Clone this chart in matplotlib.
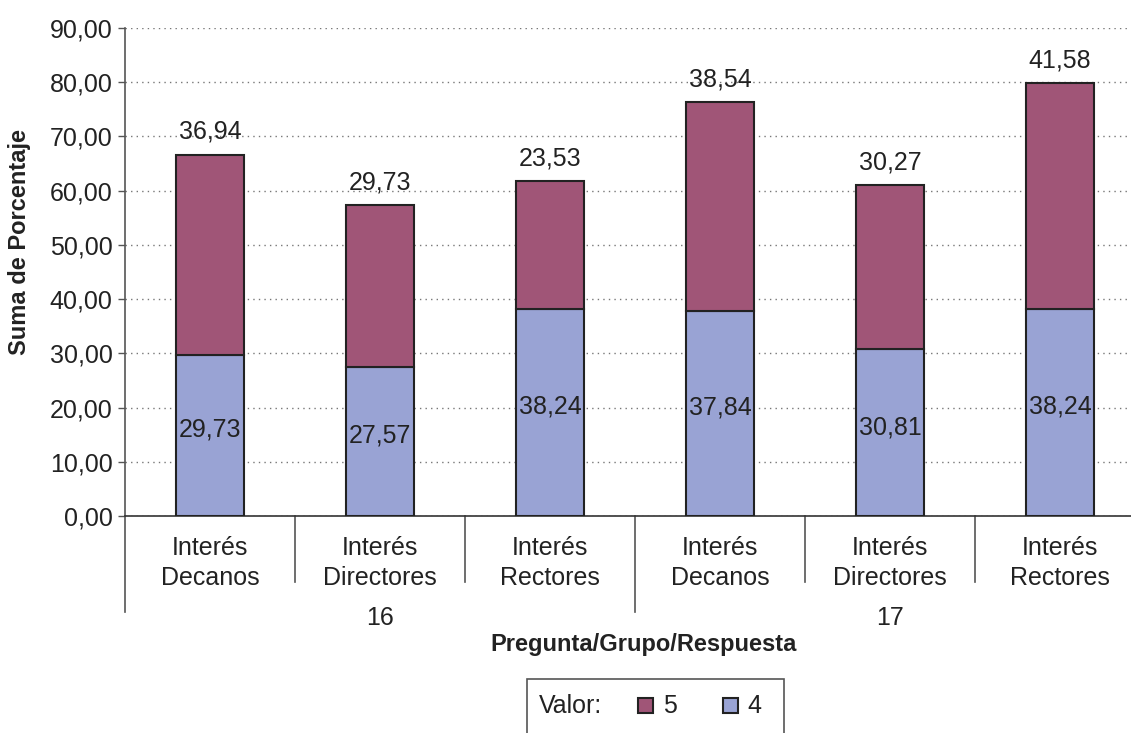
import matplotlib
matplotlib.use("Agg")
import matplotlib.pyplot as plt
from matplotlib.patches import Rectangle
from matplotlib.transforms import blended_transform_factory

plt.rcParams['font.family'] = ['Liberation Sans', 'DejaVu Sans']

# Data
categories = ["Interés\nDecanos", "Interés\nDirectores", "Interés\nRectores",
              "Interés\nDecanos", "Interés\nDirectores", "Interés\nRectores"]
groups = ["16", "17"]
valor4 = [29.73, 27.57, 38.24, 37.84, 30.81, 38.24]
valor5 = [36.94, 29.73, 23.53, 38.54, 30.27, 41.58]
yticks = [0, 10, 20, 30, 40, 50, 60, 70, 80, 90]

c5 = "#A05577"
c4 = "#99A3D4"
edge = "#222222"
txt = "#222222"
FS = 18
FSB = 17

W, H = 1131, 733
fig = plt.figure(figsize=(W / 100, H / 100), dpi=100)
ax_left, ax_bottom, ax_top = 125, 516, 28
ax = fig.add_axes([ax_left / W, (H - ax_bottom) / H, (W - ax_left) / W, (ax_bottom - ax_top) / H])

slot = 170.0
x = list(range(len(categories)))
ax.set_xlim(-0.5, -0.5 + (W - ax_left) / slot)
ax.set_ylim(0, 90)

ax.bar(x, valor4, width=0.4, color=c4, edgecolor=edge, linewidth=1.5, zorder=3)
ax.bar(x, valor5, width=0.4, bottom=valor4, color=c5, edgecolor=edge, linewidth=1.5, zorder=3)

for xi, v4, v5 in zip(x, valor4, valor5):
    ax.text(xi, v4 / 2 + 1, f"{v4:.2f}".replace(".", ","), ha="center", va="center",
            fontsize=FS, color=txt, zorder=4)
    ax.text(xi, v4 + v5 + 4.2, f"{v5:.2f}".replace(".", ","), ha="center", va="center",
            fontsize=FS, color=txt, zorder=4)

# y axis
ax.set_yticks(yticks)
ax.set_yticklabels([f"{t:.2f}".replace(".", ",") for t in yticks], fontsize=FS, color=txt)
ax.tick_params(axis="y", length=5, width=1, color="#555555", pad=4)
ax.yaxis.grid(True, linestyle=(0, (1, 3)), color="#777777", linewidth=1)
ax.set_axisbelow(True)
for s in ["top", "right"]:
    ax.spines[s].set_visible(False)
ax.spines["left"].set_color("#555555")
ax.spines["bottom"].set_color("#333333")
ax.spines["left"].set_linewidth(1.2)
ax.spines["bottom"].set_linewidth(1.2)
ax.set_xticks([])

# multi-level category axis
trans = blended_transform_factory(ax.transData, ax.transAxes)
px = 1.0 / (ax_bottom - ax_top)
for b in range(1, len(categories) + 1):
    xb = b - 0.5
    yend = -(612 - ax_bottom) * px if b % 3 == 0 else -(582 - ax_bottom) * px
    ax.plot([xb, xb], [0, yend], transform=trans, color="#555555", lw=1.2, clip_on=False)
ax.plot([-0.5, -0.5], [0, -(612 - ax_bottom) * px], transform=trans, color="#555555",
        lw=1.2, clip_on=False)

for xi, cat in zip(x, categories):
    l1, l2 = cat.split("\n")
    ax.text(xi, -(548 - ax_bottom) * px, l1, transform=trans, ha="center", va="center",
            fontsize=FS, color=txt)
    ax.text(xi, -(578 - ax_bottom) * px, l2, transform=trans, ha="center", va="center",
            fontsize=FS, color=txt)
for gi, g in enumerate(groups):
    ax.text(gi * 3 + 1, -(618 - ax_bottom) * px, g, transform=trans, ha="center", va="center",
            fontsize=FS, color=txt)

fig.text(644 / W, 1 - 645 / H, "Pregunta/Grupo/Respuesta", ha="center", va="center",
         fontsize=FSB, fontweight="bold", color=txt)
fig.text(20 / W, 1 - 242 / H, "Suma de Porcentaje", ha="center", va="center",
         rotation=90, fontsize=FSB, fontweight="bold", color=txt)

# legend box
def fr(x0, y0, w, h, **kw):
    return Rectangle((x0 / W, 1 - (y0 + h) / H), w / W, h / H, transform=fig.transFigure, **kw)

fig.add_artist(fr(527, 679, 257, 60, facecolor="white", edgecolor="#555555", lw=1.2))
fig.text(539 / W, 1 - 706 / H, "Valor:", ha="left", va="center", fontsize=FS, color=txt)
fig.add_artist(fr(638, 698, 15, 15, facecolor=c5, edgecolor=edge, lw=1.5))
fig.text(663 / W, 1 - 706 / H, "5", ha="left", va="center", fontsize=FS, color=txt)
fig.add_artist(fr(723, 698, 15, 15, facecolor=c4, edgecolor=edge, lw=1.5))
fig.text(747 / W, 1 - 706 / H, "4", ha="left", va="center", fontsize=FS, color=txt)

fig.savefig("out.png", dpi=100, facecolor="white")
